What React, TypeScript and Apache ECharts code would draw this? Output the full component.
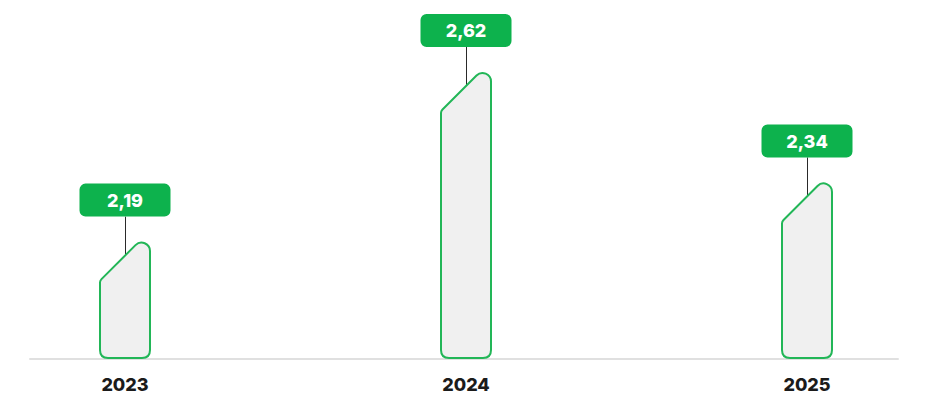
import React, { useEffect, useRef } from "react";
import * as echarts from "echarts";

const years = ["2023", "2024", "2025"];
const values = [2.19, 2.62, 2.34];
const yMin = 1.895;
const yMax = 2.805;

const GREEN = "#0db24d";
const STROKE = "#22b657";
const FILL = "#f0f0f0";
const FONT = "Inter, 'Noto Sans', sans-serif";

export default function App() {
  const ref = useRef<HTMLDivElement>(null);
  useEffect(() => {
    if (!ref.current) return;
    const chart = echarts.init(ref.current, null, { renderer: "svg" });
    chart.setOption({
      animation: false,
      grid: [
        { left: 125, right: 131, top: 0, bottom: 40 },
        { left: 30, right: 40, top: 0, bottom: 40 },
      ],
      xAxis: [
        {
          type: "category",
          gridIndex: 0,
          data: years,
          boundaryGap: false,
          axisLine: { show: false },
          axisTick: { show: false },
          splitLine: { show: false },
          axisLabel: {
            fontSize: 18,
            fontWeight: 800,
            color: "#1b1b1b",
            fontFamily: FONT,
            margin: 16,
          },
        },
        {
          type: "value",
          gridIndex: 1,
          min: 0,
          max: 1,
          axisLine: { show: true, lineStyle: { color: "#e0e0e0", width: 2 } },
          axisTick: { show: false },
          axisLabel: { show: false },
          splitLine: { show: false },
        },
      ],
      yAxis: [
        { type: "value", gridIndex: 0, min: yMin, max: yMax, show: false, splitLine: { show: false } },
        { type: "value", gridIndex: 1, min: 0, max: 1, show: false, splitLine: { show: false } },
      ],
      series: [
        {
          type: "custom",
          xAxisIndex: 0,
          yAxisIndex: 0,
          clip: false,
          data: values.map((v, i) => [i, v]),
          renderItem: (params: any, api: any) => {
            const idx = api.value(0);
            const val = api.value(1);
            const top = api.coord([idx, val]);
            const base = api.coord([idx, yMin]);
            const cx = top[0];
            const y0 = top[1];
            const yb = base[1] - 1;
            const L = cx - 25;
            const R = cx + 25;
            const d = [
              `M ${L} ${yb - 8}`,
              `L ${L} ${y0 + 40}`,
              `Q ${L} ${y0 + 38} ${L + 1.5} ${y0 + 36.5}`,
              `L ${R - 14.5} ${y0 + 2.5}`,
              `A 8.5 8.5 0 0 1 ${R} ${y0 + 8.5}`,
              `L ${R} ${yb - 8}`,
              `Q ${R} ${yb} ${R - 8} ${yb}`,
              `L ${L + 8} ${yb}`,
              `Q ${L} ${yb} ${L} ${yb - 8}`,
              "Z",
            ].join(" ");
            const label = val.toFixed(2).replace(".", ",");
            const lx = Math.round(cx) + 0.5;
            return {
              type: "group",
              children: [
                {
                  type: "line",
                  shape: { x1: lx, y1: y0 - 26, x2: lx, y2: y0 + 14 },
                  style: { stroke: "#2a2a2a", lineWidth: 1 },
                },
                {
                  type: "path",
                  shape: { pathData: d },
                  style: { fill: FILL, stroke: STROKE, lineWidth: 2 },
                },
                {
                  type: "rect",
                  shape: { x: cx - 45.5, y: y0 - 59, width: 91, height: 33, r: 6 },
                  style: { fill: GREEN },
                },
                {
                  type: "text",
                  x: cx,
                  y: y0 - 42,
                  style: {
                    text: label,
                    fill: "#ffffff",
                    font: `800 18px ${FONT}`,
                    align: "center",
                    verticalAlign: "middle",
                  },
                },
              ],
            };
          },
        },
      ],
    });
    return () => chart.dispose();
  }, []);
  return (
    <div
      ref={ref}
      style={{ position: "fixed", left: 0, top: 0, width: 938, height: 399, background: "#ffffff" }}
    />
  );
}
